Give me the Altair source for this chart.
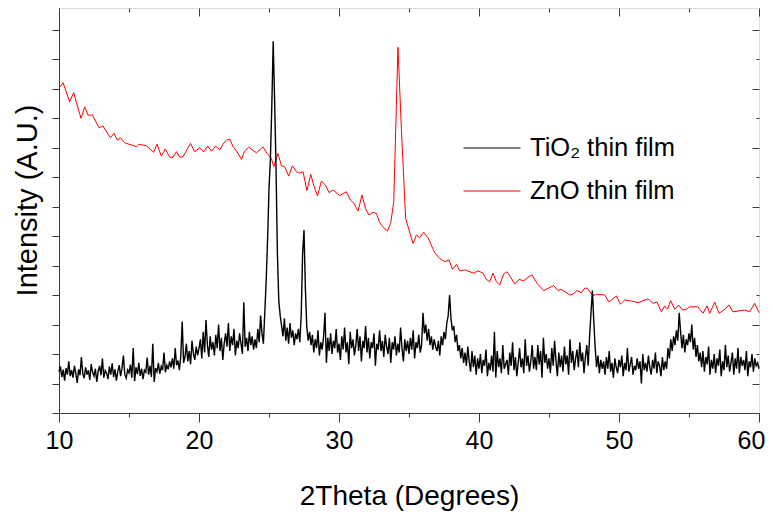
import altair as alt
import numpy as np
import pandas as pd

# ---------------- data ----------------
series_names = ["TiO₂ thin film", "ZnO thin film"]
series_colors = ["#000000", "#ff0000"]

x_major = [10, 20, 30, 40, 50]
x_last = [60]
x_ticks = [10, 20, 30, 40, 50, 60]
x_minor = [15, 25, 35, 45, 55]
y_major = [1, 3, 5, 7, 9, 11, 13]
y_minor = [0, 2, 4, 6, 8, 10, 12]
y_all = list(range(14))

# TiO2: sampled every 0.1 degree from 10.0 to 60.0
tio2_start = 10.0
tio2_step = 0.1
tio2_y = [
    1.40, 1.58, 1.22, 1.47, 1.10, 1.52, 1.30, 1.75, 1.25, 1.45,
    1.20, 1.60, 1.35, 1.02, 1.48, 1.28, 1.90, 1.33, 1.18, 1.55,
    1.30, 1.45, 1.12, 1.66, 1.38, 1.25, 1.50, 1.05, 1.42, 1.60,
    1.28, 1.85, 1.20, 1.44, 1.35, 1.15, 1.57, 1.30, 1.68, 1.22,
    1.48, 1.10, 1.40, 1.62, 1.25, 1.52, 1.95, 1.30, 1.18, 1.46,
    1.36, 1.64, 1.20, 2.20, 1.08, 1.55, 1.32, 1.70, 1.26, 1.50,
    1.15, 1.45, 1.38, 1.88, 1.30, 1.60, 1.22, 2.35, 1.05, 1.52,
    1.40, 1.70, 1.33, 1.58, 1.45, 2.05, 1.38, 1.62, 1.48, 1.75,
    1.55, 1.85, 1.50, 2.20, 1.62, 1.78, 1.45, 1.95, 3.10, 1.70,
    1.90, 2.35, 1.75, 2.10, 1.65, 2.45, 2.00, 1.80, 2.25, 1.95,
    2.20, 2.50, 1.85, 2.75, 2.05, 3.15, 2.30, 1.90, 2.60, 2.15,
    2.40, 1.95, 2.65, 2.20, 3.00, 2.10, 2.55, 1.80, 2.35, 2.70,
    2.25, 3.05, 2.10, 2.60, 2.30, 2.85, 1.95, 2.45, 2.20, 2.70,
    2.35, 2.00, 3.75, 2.25, 2.55, 2.10, 2.75, 2.30, 2.60, 2.15,
    2.50, 2.20, 2.85, 2.40, 3.30, 2.70, 2.35, 3.40, 4.50, 5.90,
    7.60, 8.60, 10.40, 12.60, 10.60, 8.40, 5.40, 3.80, 3.30, 2.95,
    2.60, 3.20, 2.45, 2.90, 2.35, 3.05, 2.55, 2.80, 2.30, 2.70,
    2.50, 2.85, 2.40, 3.30, 5.40, 6.20, 4.20, 2.90, 2.45, 2.75,
    2.30, 2.65, 2.05, 2.50, 2.20, 2.80, 1.95, 2.40, 2.15, 2.60,
    3.40, 1.70, 2.55, 2.10, 2.70, 2.00, 2.45, 2.20, 2.85, 2.05,
    2.35, 1.80, 2.60, 2.15, 2.90, 2.05, 2.40, 1.65, 2.75, 2.20,
    2.50, 1.95, 2.30, 2.85, 2.10, 2.60, 1.75, 2.45, 2.20, 2.95,
    2.05, 2.55, 1.85, 2.40, 2.20, 2.70, 1.60, 2.35, 2.15, 2.80,
    2.10, 2.45, 1.90, 2.65, 2.25, 2.00, 2.55, 1.70, 2.40, 2.15,
    2.60, 1.95, 2.35, 2.05, 2.90, 2.20, 1.75, 2.50, 2.10, 2.45,
    2.00, 2.55, 2.15, 2.80, 1.85, 2.40, 2.20, 2.65, 2.05, 2.30,
    3.40, 2.70, 3.00, 2.45, 2.85, 2.30, 2.60, 2.15, 2.50, 2.25,
    2.10, 2.45, 1.95, 2.60, 2.30, 2.75, 2.50, 3.05, 3.30, 4.00,
    3.20, 2.80, 2.95, 2.40, 2.65, 2.10, 2.30, 1.85, 2.20, 1.70,
    2.05, 1.60, 2.25, 1.75, 1.40, 2.10, 1.55, 1.95, 1.30, 1.85,
    1.50, 2.00, 1.35, 1.80, 1.60, 2.15, 1.25, 1.70, 1.45, 1.95,
    1.40, 2.75, 1.20, 2.10, 1.55, 1.85, 1.35, 2.30, 1.50, 1.65,
    1.80, 1.30, 2.05, 1.60, 2.40, 1.45, 1.90, 1.25, 1.70, 2.20,
    1.55, 1.85, 1.35, 2.50, 1.60, 1.95, 1.40, 1.75, 2.30, 1.50,
    1.90, 1.45, 2.30, 1.65, 2.10, 1.20, 2.55, 1.70, 2.00, 1.50,
    1.85, 1.35, 2.20, 1.60, 2.45, 1.75, 1.25, 2.05, 1.55, 1.95,
    1.40, 2.25, 1.65, 1.95, 1.30, 2.50, 1.70, 2.10, 1.45, 1.85,
    2.15, 1.55, 2.40, 1.75, 2.05, 1.35, 1.90, 2.30, 1.60, 2.60,
    3.40, 4.15, 3.10, 2.20, 1.55, 1.95, 1.35, 1.80, 1.50, 1.75,
    1.30, 1.90, 1.50, 2.10, 1.40, 1.70, 1.20, 1.85, 1.55, 1.35,
    1.80, 1.55, 1.95, 1.25, 1.70, 1.45, 2.20, 1.40, 1.65, 1.90,
    1.30, 1.60, 1.45, 1.85, 1.50, 1.75, 1.00, 2.00, 1.45, 1.70,
    1.40, 1.95, 1.55, 1.30, 1.80, 1.50, 2.05, 1.35, 1.75, 1.60,
    1.25, 1.90, 1.45, 1.75, 1.50, 2.20, 1.85, 2.50, 2.10, 2.60,
    2.30, 2.80, 2.45, 3.40, 2.75, 2.20, 2.65, 2.05, 2.50, 2.30,
    2.70, 2.40, 3.00, 2.15, 2.55, 1.90, 2.30, 1.75, 2.05, 1.55,
    2.10, 1.40, 1.90, 1.65, 2.25, 1.30, 1.80, 1.50, 2.00, 1.35,
    1.85, 1.60, 2.15, 1.25, 1.75, 1.45, 2.30, 1.55, 1.95, 1.40,
    1.70, 2.05, 1.30, 1.85, 1.50, 2.20, 1.35, 1.90, 1.60, 1.80,
    1.45, 2.10, 1.25, 1.75, 1.55, 2.00, 1.40, 1.85, 1.60, 1.70,
    1.50,
]

zno_x = [
    10.00, 10.29, 10.76, 11.05, 11.57, 11.84, 12.07, 12.39, 12.86, 13.14,
    13.67, 13.93, 14.17, 14.39, 14.69, 15.53, 15.71, 16.24, 16.76, 17.00,
    17.31, 17.60, 17.91, 18.14, 18.39, 18.62, 18.86, 19.39, 19.69, 20.05,
    20.34, 20.62, 20.90, 21.19, 21.48, 21.76, 21.98, 22.19, 22.43, 22.71,
    23.03, 23.26, 23.55, 24.10, 24.57, 24.86, 25.17, 25.34, 25.64, 25.89,
    26.12, 26.41, 26.67, 26.96, 27.19, 27.43, 27.71, 27.98, 28.19, 28.46,
    28.74, 29.03, 29.29, 29.57, 30.05, 30.53, 30.81, 31.07, 31.36, 31.64,
    31.89, 32.14, 32.43, 32.67, 32.91, 33.19, 33.46, 33.69, 33.91, 34.05,
    34.21, 34.46, 34.76, 35.00, 35.29, 35.53, 35.76, 36.05, 36.36, 36.84,
    37.19, 37.55, 37.86, 38.10, 38.39, 38.62, 38.98, 39.21, 39.62, 39.93,
    40.29, 40.53, 40.76, 41.00, 41.24, 41.48, 41.76, 42.00, 42.31, 42.55,
    42.86, 43.19, 43.50, 43.79, 44.14, 44.62, 45.34, 45.64, 45.89, 46.48,
    46.71, 47.00, 47.31, 47.55, 47.74, 48.14, 48.39, 48.98, 49.29, 49.81,
    50.10, 50.41, 50.76, 51.36, 52.07, 52.43, 52.71, 53.03, 53.26, 53.46,
    53.69, 53.98, 54.26, 54.53, 54.81, 55.05, 55.64, 56.00, 56.29, 56.48,
    56.84, 57.14, 57.43, 57.86, 58.14, 58.98, 59.34, 59.69, 60.00,
]
zno_y = [
    11.01, 11.20, 10.55, 10.86, 9.99, 10.38, 10.10, 10.10, 9.67, 9.73,
    9.33, 9.48, 9.25, 9.33, 9.16, 9.03, 9.11, 9.06, 8.84, 9.11,
    8.71, 8.95, 8.67, 8.67, 8.86, 8.67, 8.69, 9.14, 8.86, 8.99,
    8.85, 9.05, 8.88, 9.05, 8.92, 9.15, 9.25, 9.29, 9.03, 8.86,
    8.60, 8.88, 9.01, 8.82, 9.02, 8.80, 8.63, 8.35, 8.80, 8.38,
    8.35, 8.03, 8.38, 8.18, 8.13, 8.18, 7.54, 8.09, 7.73, 7.36,
    7.86, 7.73, 7.47, 7.56, 7.37, 7.50, 7.22, 7.11, 6.84, 7.39,
    6.94, 6.71, 6.80, 6.77, 6.45, 6.28, 6.17, 6.43, 7.16, 9.59,
    12.40, 9.59, 6.60, 6.20, 5.75, 6.03, 5.94, 6.13, 5.94, 5.43,
    5.24, 5.13, 5.19, 4.87, 5.04, 4.82, 4.85, 4.81, 4.74, 4.82,
    4.74, 4.53, 4.45, 4.74, 4.45, 4.34, 4.71, 4.79, 4.57, 4.37,
    4.53, 4.48, 4.60, 4.68, 4.40, 4.15, 4.32, 4.15, 4.19, 4.00,
    4.03, 4.15, 4.08, 4.23, 4.23, 3.98, 4.03, 4.00, 3.76, 3.97,
    3.69, 3.83, 3.81, 3.74, 3.87, 3.72, 3.76, 3.43, 3.63, 3.52,
    3.81, 3.52, 3.66, 3.49, 3.52, 3.60, 3.60, 3.38, 3.63, 3.38,
    3.76, 3.38, 3.47, 3.66, 3.43, 3.49, 3.43, 3.72, 3.40,
]

# ---------------- tables ----------------
tio2_x = np.round(tio2_start + tio2_step * np.arange(len(tio2_y)), 2)
tio2_df = pd.DataFrame({"x": tio2_x, "y": tio2_y, "series": series_names[0]})
n = min(len(zno_x), len(zno_y))
zno_df = pd.DataFrame({"x": zno_x[:n], "y": zno_y[:n], "series": series_names[1]})
frame_df = pd.DataFrame({"x": [10, 60], "y": [0, 13]})

# ---------------- styling ----------------
W, H = 700, 405
FONT = "Liberation Sans"
AX = "#3a3a3a"

xs = alt.Scale(domain=[10, 60], nice=False, zero=False)
ys = alt.Scale(domain=[0, 13.73], nice=False, zero=False)
cs = alt.Scale(domain=series_names, range=series_colors)

legend = alt.Legend(
    orient="none", legendX=404, legendY=111, title=None,
    symbolType="stroke", symbolSize=3249, symbolStrokeWidth=1,
    labelFont=FONT, labelFontSize=25.5, labelColor="black",
    labelOffset=9, rowPadding=-4,
)

def blank_axis(**kw):
    base = dict(labels=False, title=None, domain=False, grid=False, tickColor=AX)
    base.update(kw)
    return alt.Axis(**base)

zno_layer = alt.Chart(zno_df).mark_line(strokeWidth=1).encode(
    x=alt.X("x:Q", scale=xs, axis=blank_axis(orient="bottom", values=x_minor, tickSize=4)),
    y=alt.Y("y:Q", scale=ys, axis=blank_axis(orient="left", offset=-W, values=y_major, tickSize=7)),
    color=alt.Color("series:N", scale=cs, legend=legend),
)

tio2_layer = alt.Chart(tio2_df).mark_line(strokeWidth=1.4).encode(
    x=alt.X("x:Q", scale=xs, axis=alt.Axis(
        orient="bottom", values=x_major, tickSize=9, tickColor=AX,
        domainColor=AX, grid=False, labelFont=FONT, labelFontSize=25,
        labelColor="black", labelPadding=6, labelFlush=False,
        title="2Theta (Degrees)", titleFont=FONT, titleFontSize=28,
        titleFontWeight="normal", titleColor="black", titlePadding=29)),
    y=alt.Y("y:Q", scale=ys, axis=alt.Axis(
        orient="left", values=y_all, tickSize=7, tickColor=AX,
        domainColor=AX, grid=False, labels=False,
        title="Intensity (A.U.)", titleFont=FONT, titleFontSize=29,
        titleFontWeight="normal", titleColor="black", titlePadding=9,
        titleY=192)),
    color=alt.Color("series:N", scale=cs, legend=legend),
)

# last bottom label (60), nudged so it stays inside the page
last_label = alt.Chart(frame_df).mark_point(opacity=0).encode(
    x=alt.X("x:Q", scale=xs, axis=alt.Axis(
        orient="bottom", values=x_last, tickSize=9, tickColor=AX, domain=False,
        grid=False, labelFont=FONT, labelFontSize=25, labelColor="black",
        labelPadding=6, labelFlush=False, labelOffset=-8, title=None)),
    y=alt.Y("y:Q", scale=ys, axis=None),
)

top_major = alt.Chart(frame_df).mark_point(opacity=0).encode(
    x=alt.X("x:Q", scale=xs, axis=blank_axis(orient="bottom", offset=-H, values=x_ticks, tickSize=8)),
    y=alt.Y("y:Q", scale=ys, axis=blank_axis(orient="left", offset=-W, values=y_minor, tickSize=3)),
)
top_minor = alt.Chart(frame_df).mark_point(opacity=0).encode(
    x=alt.X("x:Q", scale=xs, axis=blank_axis(orient="bottom", offset=-H, values=x_minor, tickSize=4)),
    y=alt.Y("y:Q", scale=ys, axis=None),
)

chart = (
    alt.layer(zno_layer, tio2_layer, last_label, top_major, top_minor)
    .resolve_axis(x="independent", y="independent")
    .properties(
        width=W, height=H,
        autosize=alt.AutoSizeParams(type="none"),
        padding={"left": 51, "top": 0, "right": 6, "bottom": 100},
    )
    .configure_view(stroke=AX, strokeWidth=1)
    .configure(background="white")
)

chart.save("out.html", embed_options={"renderer": "svg", "actions": False})
